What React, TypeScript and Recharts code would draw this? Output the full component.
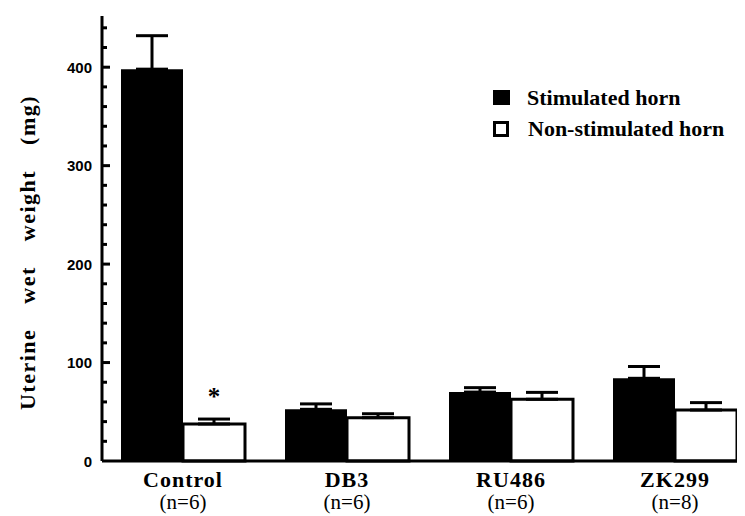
import { BarChart, Bar, XAxis, YAxis, ErrorBar, LabelList, Legend } from "recharts";

const groups = ["Control", "DB3", "RU486", "ZK299"];
const groupN = ["(n=6)", "(n=6)", "(n=6)", "(n=8)"];
const stimulated = [398, 52.5, 70, 84];
const stimulatedErr = [34, 5.5, 4.5, 12];
const nonStimulated = [37.6, 44, 62.7, 51.8];
const nonStimulatedErr = [5, 4, 7, 7.5];
const significance = ["*", "", "", ""];
const yTicks = [0, 20, 40, 60, 80, 100, 120, 140, 160, 180, 200, 220, 240, 260, 280, 300, 320, 340, 360, 380, 400, 420, 440];

const data = groups.map((g, i) => ({
  group: g,
  n: groupN[i],
  stim: stimulated[i],
  stimErr: [0, stimulatedErr[i]],
  non: nonStimulated[i],
  nonErr: [0, nonStimulatedErr[i]],
  sig: significance[i],
}));

const serif = "'Liberation Serif', 'Times New Roman', serif";
const sans = "'Liberation Sans', Arial, sans-serif";

const YTick = (props: any) => {
  const { x, y, payload } = props;
  const v = payload.value;
  const axisX = x + 10;
  const major = v % 100 === 0;
  return (
    <g>
      {v > 0 && (
        <line x1={axisX} x2={axisX + (major ? 8 : 5)} y1={y} y2={y} stroke="#000" strokeWidth={3} />
      )}
      {major && (
        <text x={x} y={y} textAnchor="end" dominantBaseline="central" fontFamily={sans} fontWeight="bold" fontSize={15} fill="#000">
          {v}
        </text>
      )}
    </g>
  );
};

const XTick = (props: any) => {
  const { x, y, index } = props;
  return (
    <g>
      <text x={x} y={y + 26} textAnchor="middle" fontFamily={serif} fontWeight="bold" fontSize={22} letterSpacing={1} fill="#000">
        {groups[index]}
      </text>
      <text x={x} y={y + 48} textAnchor="middle" fontFamily={serif} fontSize={21} fill="#000">
        {groupN[index]}
      </text>
    </g>
  );
};

const YLabel = (props: any) => {
  const { viewBox } = props;
  const cx = viewBox.x + 19;
  const cy = viewBox.y + viewBox.height / 2 + 14;
  return (
    <text
      x={cx}
      y={cy}
      transform={`rotate(-90, ${cx}, ${cy})`}
      textAnchor="middle"
      dominantBaseline="central"
      fontFamily={serif}
      fontWeight="bold"
      fontSize={22}
      fill="#000"
      style={{ wordSpacing: "18px", letterSpacing: "1.5px" }}
    >
      Uterine wet weight (mg)
    </text>
  );
};

const Star = (props: any) => {
  const { x, y, width, value } = props;
  if (!value) return null;
  return (
    <text x={x + width / 2} y={y - 19} textAnchor="middle" fontFamily={serif} fontWeight="bold" fontSize={25} fill="#000">
      {value}
    </text>
  );
};

const LegendBox = () => (
  <div style={{ fontFamily: serif, fontWeight: "bold", fontSize: 22, color: "#000", whiteSpace: "nowrap" }}>
    <div style={{ display: "flex", alignItems: "center", height: 31 }}>
      <span style={{ width: 17, height: 15, background: "#000", marginRight: 17, display: "inline-block" }} />
      Stimulated horn
    </div>
    <div style={{ display: "flex", alignItems: "center", height: 31 }}>
      <span style={{ width: 10, height: 10, border: "3px solid #000", background: "#fff", marginRight: 19, display: "inline-block" }} />
      Non-stimulated horn
    </div>
  </div>
);

export default function App() {
  return (
    <BarChart
      width={737}
      height={508}
      data={data}
      margin={{ top: 8, right: 0, left: 0, bottom: 0 }}
      barSize={62}
      barGap={0}
    >
      <XAxis
        dataKey="group"
        height={55}
        axisLine={{ stroke: "#000", strokeWidth: 3 }}
        tickLine={false}
        tickSize={0}
        tickMargin={0}
        interval={0}
        tick={<XTick />}
        padding={{ left: -1, right: -12 }}
      />
      <YAxis
        width={94}
        domain={[0, 452]}
        ticks={yTicks}
        interval={0}
        axisLine={{ stroke: "#000", strokeWidth: 3 }}
        tickLine={false}
        tickSize={0}
        tickMargin={10}
        tick={<YTick />}
        label={<YLabel />}
      />
      <Legend
        layout="horizontal"
        verticalAlign="middle"
        align="center"
        content={<LegendBox />}
        wrapperStyle={{ top: 74, left: 485, width: 250 }}
      />
      <Bar dataKey="stim" name="Stimulated horn" fill="#000" isAnimationActive={false}>
        <ErrorBar dataKey="stimErr" width={16} strokeWidth={3} stroke="#000" direction="y" />
      </Bar>
      <Bar dataKey="non" name="Non-stimulated horn" fill="#fff" stroke="#000" strokeWidth={3} isAnimationActive={false}>
        <ErrorBar dataKey="nonErr" width={16} strokeWidth={3} stroke="#000" direction="y" />
        <LabelList dataKey="sig" content={<Star />} />
      </Bar>
    </BarChart>
  );
}
